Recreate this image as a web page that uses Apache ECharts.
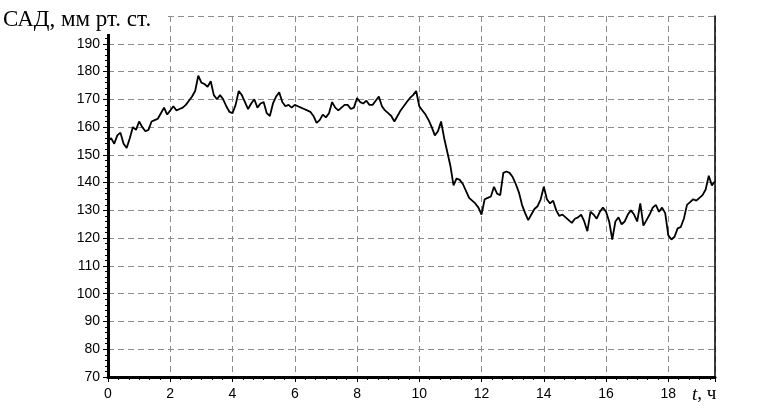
<!DOCTYPE html>
<html>
<head>
<meta charset="utf-8">
<script src="https://cdn.jsdelivr.net/npm/echarts@6/dist/echarts.min.js"></script>
<style>
  html, body { margin: 0; padding: 0; background: #fff; }
  #chart { width: 769px; height: 412px; }
</style>
</head>
<body>
<div id="chart"></div>
<script>
// время, ч (шаг 0.1)
const hours = [];
for (let i = 0; i <= 195; i++) hours.push(+(i / 10).toFixed(1));

// САД, мм рт. ст.
const sbp = [
  155, 156, 154, 157, 158, 154, 152.5, 156, 160, 159,
  162, 160, 158.5, 159, 162, 162.5, 163, 165, 167, 164.5,
  166, 167.5, 166, 166.5, 167, 168, 169.5, 171, 173, 178.5,
  176, 175.5, 174.5, 176.5, 171.5, 170, 171.5, 170, 167.5, 165.5,
  165, 168, 173, 171.5, 169, 166.5, 168.5, 170, 167, 168.5,
  169, 165, 164, 168.5, 171, 172.5, 169, 167.5, 168, 167,
  168, 167.5, 167, 166.5, 166, 165.5, 164, 161.5, 162.5, 164.5,
  163.5, 165, 169, 167, 166, 167, 168, 168, 166.5, 167,
  170.5, 169, 168.5, 169.5, 168, 168, 169.5, 171, 167.5, 166,
  165, 164, 162, 164, 166, 167.5, 169, 170.5, 171.5, 173,
  167.5, 166, 164.5, 162.5, 160, 157, 158.5, 162, 156, 151,
  146, 139, 141.5, 141, 139.5, 137, 134.5, 133.5, 132.5, 131,
  128.5, 134, 134.5, 135, 138.5, 136, 135.5, 143.5, 144, 143.5,
  142, 139.5, 136.5, 132, 129, 126.5, 128.5, 130.5, 131.5, 134,
  138.5, 134, 132.5, 133.5, 130, 128, 128.5, 127.5, 126.5, 125.5,
  127, 127.5, 128.5, 126, 122.5, 129.5, 128.5, 127, 129.5, 131,
  129.5, 126, 119.5, 126, 127.5, 125, 126, 128.5, 130, 128.5,
  126, 132.5, 124.5, 126.5, 128.5, 131, 132, 129.5, 131, 129,
  121, 119.5, 120.5, 123.5, 124, 127, 132, 133, 134, 133.5,
  134.5, 135.5, 137.5, 142.5, 139, 140.5
];

const yTicks = [70, 80, 90, 100, 110, 120, 130, 140, 150, 160, 170, 180, 190];
const xTicks = [0, 2, 4, 6, 8, 10, 12, 14, 16, 18];

const chart = echarts.init(document.getElementById('chart'));

const gridDash = { color: '#8c8c8c', type: [6, 4], width: 1 };

chart.setOption({
  animation: false,
  backgroundColor: '#fff',
  grid: { left: 108, right: 54, top: 16, bottom: 35 },
  xAxis: {
    type: 'value',
    min: 0,
    max: 19.5,
    interval: 2,
    axisLine: { onZero: false, lineStyle: { color: '#000', width: 3 } },
    axisTick: { length: 5, lineStyle: { color: '#000', width: 1 } },
    minorTick: { show: true, splitNumber: 6, length: 3, lineStyle: { color: '#000' } },
    axisLabel: {
      color: '#000',
      fontFamily: 'Liberation Sans, Arial, sans-serif',
      fontSize: 14,
      margin: 10,
      showMaxLabel: false,
      formatter: (v) => (xTicks.includes(v) ? String(v) : '')
    },
    splitLine: { show: true, lineStyle: gridDash }
  },
  yAxis: [
    {
      type: 'value',
      min: 70,
      max: 200,
      interval: 10,
      axisLine: { show: true, onZero: false, lineStyle: { color: '#000', width: 3 } },
      axisTick: { show: true, length: 5, lineStyle: { color: '#000', width: 1 } },
      minorTick: { show: true, splitNumber: 5, length: 3, lineStyle: { color: '#000' } },
      axisLabel: {
        color: '#000',
        fontFamily: 'Liberation Sans, Arial, sans-serif',
        fontSize: 14,
        margin: 8,
        formatter: (v) => (yTicks.includes(v) ? String(v) : '')
      },
      splitLine: { show: true, lineStyle: gridDash }
    },
    {
      type: 'value',
      position: 'right',
      min: 70,
      max: 200,
      interval: 10,
      axisLine: { show: true, onZero: false, lineStyle: { color: '#000', width: 1.5 } },
      axisTick: { show: false },
      axisLabel: { show: false },
      splitLine: { show: false }
    }
  ],
  series: [
    {
      type: 'line',
      data: hours.map((t, i) => [t, sbp[i]]),
      showSymbol: false,
      lineStyle: { color: '#000', width: 1.8 },
      silent: true
    }
  ],
  graphic: [
    {
      type: 'rect',
      left: 0,
      top: 0,
      z: 100,
      shape: { width: 166, height: 34 },
      style: { fill: '#fff' }
    },
    {
      type: 'text',
      left: 3,
      top: 8,
      z: 101,
      style: {
        text: 'САД, мм рт. ст.',
        font: '23px "Liberation Serif", "Times New Roman", serif',
        fill: '#000'
      }
    },
    {
      type: 'text',
      left: 692,
      top: 385,
      style: {
        text: '{i|t}{n|, ч}',
        rich: {
          i: { font: 'italic 19px "Liberation Serif", serif', fill: '#000' },
          n: { font: '19px "Liberation Serif", serif', fill: '#000' }
        }
      }
    }
  ]
});
</script>
</body>
</html>
